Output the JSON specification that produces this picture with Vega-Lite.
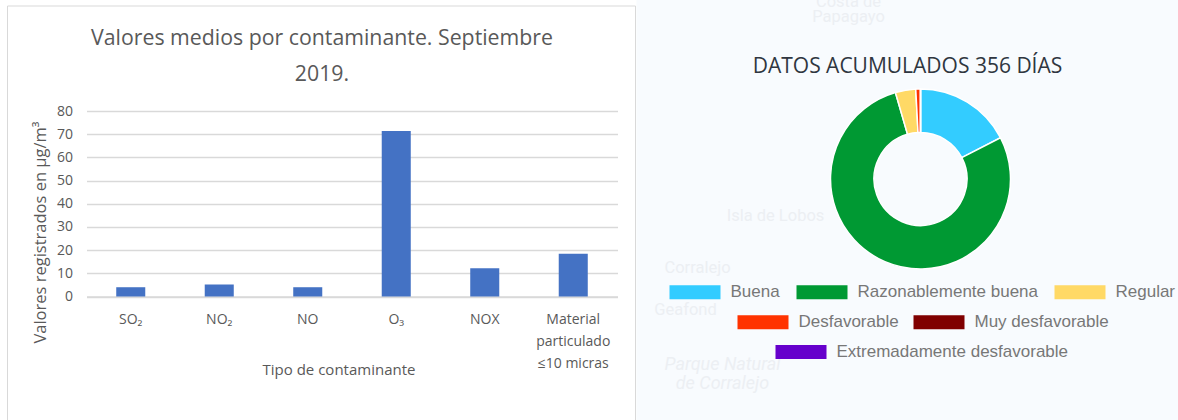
{
"$schema":"https://vega.github.io/schema/vega-lite/v6.json",
"background":"#ffffff",
"padding":{"left":6.5,"top":0,"right":0,"bottom":0},
"bounds":"flush",
"spacing":19,
"config":{"view":{"stroke":null},"font":"Open Sans"},
"hconcat":[
{
"width":531,"height":420,
"title":{"text":["Valores medios por contaminante. Septiembre","2019."],"fontSize":21.3,"font":"Open Sans","fontWeight":"normal","color":"#595959","anchor":"middle","dx":-30,"offset":-106,"lineHeight":36,"baseline":"bottom"},
"layer":[
{"data":{"values":[{"marco":"panel"}]},
 "mark":{"type":"rect","fill":null,"stroke":"#d9d9d9","strokeWidth":1},
 "encoding":{"x":{"value":-79},"x2":{"value":549},"y":{"value":6},"y2":{"value":430}}},
{"data":{"values":[
{"contaminante":"SO₂","valor":4.0},
{"contaminante":"NO₂","valor":5.2},
{"contaminante":"NO","valor":4.0},
{"contaminante":"O₃","valor":71.4},
{"contaminante":"NOX","valor":12.2},
{"contaminante":"Material particulado ≤10 micras","valor":18.4}]},
 "mark":{"type":"bar","color":"#4472C4"},
 "encoding":{
  "x":{"field":"contaminante","type":"nominal","sort":null,
   "scale":{"paddingInner":0.672,"paddingOuter":0.336},
   "axis":{"title":"Tipo de contaminante","titleX":252,"titleY":66,"titleFontSize":15,"titleFontWeight":"normal","titleColor":"#595959","titleFont":"Open Sans",
    "offset":-123.5,"labelAngle":0,"labelFontSize":14,"labelColor":"#595959","labelPadding":16,"labelLimit":0,"labelOverlap":false,"labelLineHeight":22,"labelBaseline":"top",
    "labelExpr":"datum.label == 'Material particulado ≤10 micras' ? ['Material','particulado','≤10 micras'] : datum.label",
    "ticks":false,"domainColor":"#d9d9d9","domainWidth":1.5}},
  "y":{"field":"valor","type":"quantitative",
   "scale":{"domain":[0,80],"range":[296.5,111]},
   "axis":{"title":"Valores registrados en µg/m³","titleX":-38,"titleY":232,"titleFontSize":16.5,"titleFontWeight":"normal","titleColor":"#595959","titleFont":"Open Sans",
    "values":[0,10,20,30,40,50,60,70,80],"labelFontSize":14,"labelColor":"#595959","labelPadding":14,"ticks":false,"domain":false,"gridColor":"#d9d9d9","gridWidth":1.5}}
 }}
]},
{
"width":542,"height":420,
"view":{"fill":"#f8fbfe","stroke":null},
"title":{"text":"DATOS ACUMULADOS 356 DÍAS","fontSize":21,"font":"Open Sans","fontWeight":"normal","color":"#2f3640","anchor":"middle","offset":-98,"baseline":"bottom"},
"data":{"values":[
{"calidad":"Buena","dias":62,"orden":1},
{"calidad":"Razonablemente buena","dias":278,"orden":2},
{"calidad":"Regular","dias":13,"orden":3},
{"calidad":"Desfavorable","dias":3,"orden":4},
{"calidad":"Muy desfavorable","dias":0,"orden":5},
{"calidad":"Extremadamente desfavorable","dias":0,"orden":6}]},
"transform":[{"stack":"dias","sort":[{"field":"orden","order":"ascending"}],"as":["t0","t1"]}],
"resolve":{"scale":{"color":"independent"}},
"layer":[
{"data":{"values":[
{"lugar":"Costa de","este":212,"norte":2},
{"lugar":"Papagayo","este":212,"norte":17},
{"lugar":"Isla de Lobos","este":139,"norte":216},
{"lugar":"Corralejo","este":61,"norte":268},
{"lugar":"Geafond","este":49,"norte":310}]},
 "transform":[],
 "mark":{"type":"text","fontSize":16.5,"font":"Roboto","color":"#eceff3","clip":true},
 "encoding":{
  "text":{"field":"lugar","type":"nominal"},
  "x":{"field":"este","type":"quantitative","scale":{"domain":[0,542],"range":[0,542]},"axis":null},
  "y":{"field":"norte","type":"quantitative","scale":{"domain":[0,420],"range":[0,420]},"axis":null}}},
{"data":{"values":[
{"lugar":"Parque Natural","este":86,"norte":365},
{"lugar":"de Corralejo","este":86,"norte":384}]},
 "transform":[],
 "mark":{"type":"text","fontSize":18,"font":"Roboto","fontStyle":"italic","color":"#eceff3"},
 "encoding":{
  "text":{"field":"lugar","type":"nominal"},
  "x":{"field":"este","type":"quantitative","scale":{"domain":[0,542],"range":[0,542]},"axis":null},
  "y":{"field":"norte","type":"quantitative","scale":{"domain":[0,420],"range":[0,420]},"axis":null}}},
{"transform":[{"filter":{"field":"calidad","oneOf":["Buena","Razonablemente buena","Regular"]}}],
 "mark":{"type":"arc","outerRadius":90,"innerRadius":46.5,"stroke":"#ffffff","strokeWidth":1.5,"x":284,"y":179},
 "encoding":{
  "theta":{"field":"t0","type":"quantitative","scale":{"domain":[0,356],"range":[0,6.2832]}},
  "theta2":{"field":"t1"},
  "color":{"field":"calidad","type":"nominal","sort":null,
   "scale":{"domain":["Buena","Razonablemente buena","Regular"],"range":["#33ccff","#009933","#ffd966"]},
   "legend":{"orient":"none","legendX":33,"legendY":266.5,"direction":"horizontal","columns":3,"title":null,"padding":0,"symbolType":"M-1,-0.275H1V0.275H-1Z","symbolSize":2601,"symbolStrokeWidth":0,"symbolOpacity":1,"labelFont":"Liberation Sans","labelFontSize":17,"labelColor":"#777777","labelOffset":10,"columnPadding":16,"labelLimit":0}}}},
{"transform":[{"filter":{"field":"calidad","oneOf":["Desfavorable","Muy desfavorable"]}}],
 "mark":{"type":"arc","outerRadius":90,"innerRadius":46.5,"stroke":"#ffffff","strokeWidth":1.5,"x":284,"y":179},
 "encoding":{
  "theta":{"field":"t0","type":"quantitative","scale":{"domain":[0,356],"range":[0,6.2832]}},
  "theta2":{"field":"t1"},
  "color":{"field":"calidad","type":"nominal","sort":null,
   "scale":{"domain":["Desfavorable","Muy desfavorable"],"range":["#ff3300","#800000"]},
   "legend":{"orient":"none","legendX":101,"legendY":296.5,"direction":"horizontal","columns":2,"title":null,"padding":0,"symbolType":"M-1,-0.275H1V0.275H-1Z","symbolSize":2601,"symbolStrokeWidth":0,"symbolOpacity":1,"labelFont":"Liberation Sans","labelFontSize":17,"labelColor":"#777777","labelOffset":10,"columnPadding":14,"labelLimit":0}}}},
{"transform":[{"filter":{"field":"calidad","oneOf":["Extremadamente desfavorable"]}}],
 "mark":{"type":"arc","outerRadius":90,"innerRadius":46.5,"stroke":"#ffffff","strokeWidth":1.5,"x":284,"y":179},
 "encoding":{
  "theta":{"field":"t0","type":"quantitative","scale":{"domain":[0,356],"range":[0,6.2832]}},
  "theta2":{"field":"t1"},
  "color":{"field":"calidad","type":"nominal","sort":null,
   "scale":{"domain":["Extremadamente desfavorable"],"range":["#6600cc"]},
   "legend":{"orient":"none","legendX":139,"legendY":326.5,"direction":"horizontal","title":null,"padding":0,"symbolType":"M-1,-0.275H1V0.275H-1Z","symbolSize":2601,"symbolStrokeWidth":0,"symbolOpacity":1,"labelFont":"Liberation Sans","labelFontSize":17,"labelColor":"#777777","labelOffset":10,"labelLimit":0}}}}
]}
]}
